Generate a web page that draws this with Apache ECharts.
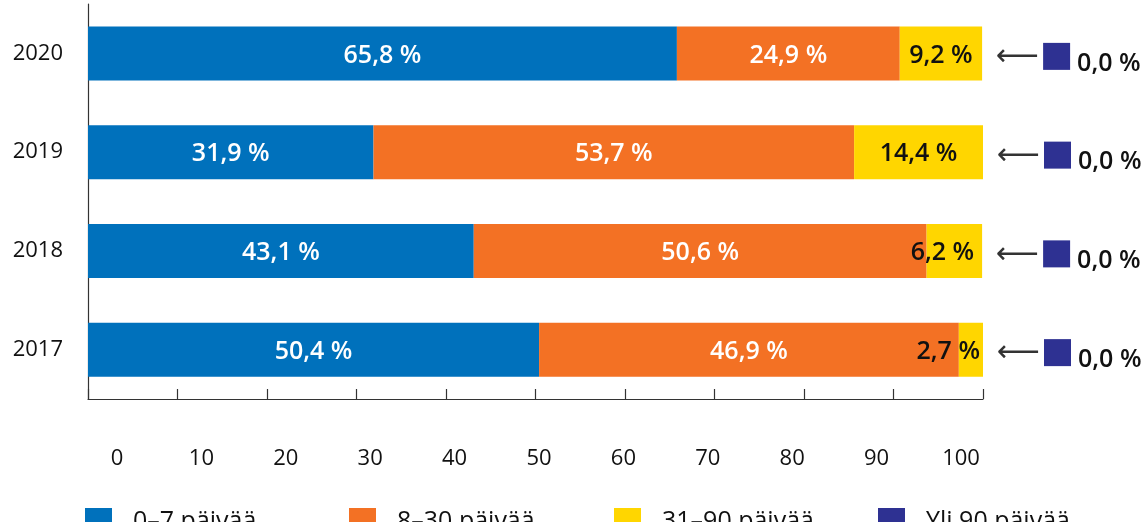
<!DOCTYPE html>
<html>
<head>
<meta charset="utf-8">
<script src="https://cdn.jsdelivr.net/npm/echarts@6/dist/echarts.min.js"></script>
<style>
  html, body { margin: 0; padding: 0; background: #fff; }
  #chart { width: 1147px; height: 522px; }
</style>
</head>
<body>
<div id="chart"></div>
<script>
// data
const years = ['2020', '2019', '2018', '2017'];
const seriesNames = ['0–7 päivää', '8–30 päivää', '31–90 päivää', 'Yli 90 päivää'];
const days0to7 = [65.8, 31.9, 43.1, 50.4];
const days8to30 = [24.9, 53.7, 50.6, 46.9];
const days31to90 = [9.2, 14.4, 6.2, 2.7];
const over90 = [0.0, 0.0, 0.0, 0.0];
const xTicks = [0, 10, 20, 30, 40, 50, 60, 70, 80, 90, 100];

const colors = ['#0071bc', '#f37124', '#ffd600', '#2e3192'];
const fmt = v => v.toFixed(1).replace('.', ',') + ' %';
const font = '"Open Sans", Roboto, sans-serif';

const chart = echarts.init(document.getElementById('chart'));

// small yellow bars: label pushed to the right edge
const yellowData = days31to90.map((v, i) => {
  if (v < 8) {
    return { value: v, label: { position: 'insideRight', distance: i === 3 ? 3 : 8 } };
  }
  return v;
});

const barLabel = (color) => ({
  show: true,
  position: 'inside',
  color: color,
  fontSize: 25,
  fontWeight: 600,
  fontFamily: font,
  offset: [0, 2],
  formatter: p => fmt(p.value)
});

// one legend per item so the items sit at fixed spacing
const legendLeft = [85, 349, 614, 878];
const legends = seriesNames.map((name, i) => ({
  data: [name],
  left: legendLeft[i],
  top: 508,
  padding: 0,
  itemWidth: 27,
  itemHeight: 27,
  icon: 'rect',
  textStyle: {
    fontSize: 25,
    fontFamily: font,
    color: '#111',
    padding: [0, 0, 0, 16]
  }
}));

const option = {
  animation: false,
  color: colors,
  grid: [
    { left: 88, right: 164, top: 4, bottom: 123 },
    { left: 117, right: 186, top: 399, height: 1 }
  ],
  legend: legends,
  xAxis: [
    {
      type: 'value',
      min: 0,
      max: 100,
      interval: 10,
      axisLine: { show: true, lineStyle: { color: '#333', width: 1.2 } },
      axisTick: { show: true, inside: true, length: 10, lineStyle: { color: '#333', width: 1.2 } },
      axisLabel: { show: false },
      splitLine: { show: false }
    },
    {
      type: 'value',
      gridIndex: 1,
      min: 0,
      max: 100,
      interval: 10,
      axisLine: { show: false },
      axisTick: { show: false },
      splitLine: { show: false },
      axisLabel: {
        margin: 48,
        fontSize: 22,
        fontFamily: font,
        color: '#111',
        formatter: v => (xTicks.indexOf(v) >= 0 ? String(v) : '')
      }
    }
  ],
  yAxis: [
    {
      type: 'category',
      data: years,
      inverse: true,
      axisLine: { show: true, lineStyle: { color: '#333', width: 1.2 } },
      axisTick: { show: false },
      axisLabel: { margin: 25, fontSize: 22, fontFamily: font, color: '#111', padding: [6, 0, 0, 0] }
    },
    {
      type: 'category',
      gridIndex: 1,
      data: [''],
      show: false
    }
  ],
  series: [
    {
      name: seriesNames[0],
      type: 'bar',
      stack: 'total',
      barWidth: 54,
      data: days0to7,
      label: barLabel('#fff')
    },
    {
      name: seriesNames[1],
      type: 'bar',
      stack: 'total',
      barWidth: 54,
      data: days8to30,
      label: barLabel('#fff')
    },
    {
      name: seriesNames[2],
      type: 'bar',
      stack: 'total',
      barWidth: 54,
      data: yellowData,
      label: barLabel('#111')
    },
    {
      name: seriesNames[3],
      type: 'bar',
      stack: 'total',
      barWidth: 54,
      data: over90,
      label: {
        show: true,
        position: 'right',
        distance: 14,
        offset: [0, 3],
        formatter: p => '{a|⟵}{s|}{v|' + fmt(p.value) + '}',
        rich: {
          a: { fontFamily: '"DejaVu Sans"', fontSize: 30, color: '#333', padding: [2, 4, 0, 0] },
          s: { width: 27, height: 27, backgroundColor: colors[3] },
          v: { fontSize: 25, fontWeight: 600, fontFamily: font, color: '#111', padding: [14, 0, 0, 7] }
        }
      }
    }
  ]
};

chart.setOption(option);
</script>
</body>
</html>
